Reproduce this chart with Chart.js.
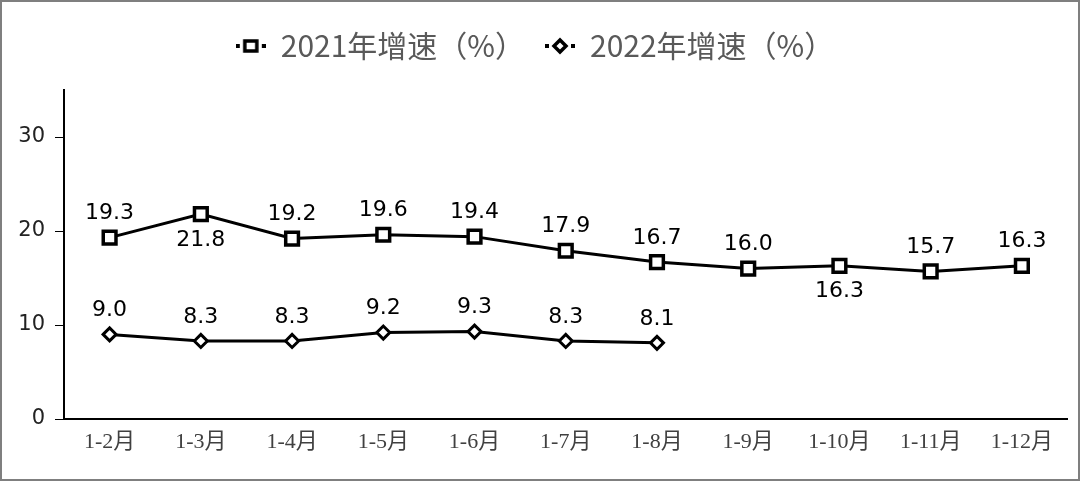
<!DOCTYPE html>
<html lang="zh">
<head>
<meta charset="UTF-8">
<title>增速</title>
<script src="https://cdn.jsdelivr.net/npm/chart.js"></script>
<style>
    html, body { margin: 0; padding: 0; background: #fff; }
    .quadro { width: 1080px; height: 481px; position: relative; }
</style>
</head>
<body>
<div class="quadro">
    <canvas id="grafico"></canvas>
</div>

<script>
    // eixo x
    const meses = ['1-2月', '1-3月', '1-4月', '1-5月', '1-6月', '1-7月', '1-8月', '1-9月', '1-10月', '1-11月', '1-12月'];
    // series
    const serie2021 = [19.3, 21.8, 19.2, 19.6, 19.4, 17.9, 16.7, 16.0, 16.3, 15.7, 16.3];
    const serie2022 = [9.0, 8.3, 8.3, 9.2, 9.3, 8.3, 8.1];
    const nomes = ['2021年增速（%）', '2022年增速（%）'];
    // ticks do eixo y
    const ticksY = [0, 10, 20, 30];
    // rotulos que ficam abaixo do ponto (so a serie 2021)
    const abaixo2021 = ['1-3月', '1-10月'];

    // marcador da legenda: tracinho + simbolo
    function marcador(tipo) {
        const c = document.createElement('canvas');
        c.width = 30; c.height = 18;
        const g = c.getContext('2d');
        g.fillStyle = '#000';
        g.fillRect(0, 7, 4, 4);
        g.fillRect(26, 7, 4, 4);
        g.lineWidth = 3.5;
        g.strokeStyle = '#000';
        g.fillStyle = '#fff';
        g.beginPath();
        if (tipo === 'rect') {
            g.rect(9, 4, 12, 10);
        } else {
            g.moveTo(15, 3); g.lineTo(21, 9); g.lineTo(15, 15); g.lineTo(9, 9); g.closePath();
        }
        g.fill();
        g.stroke();
        return c;
    }
    const iconeLegenda = [marcador('rect'), marcador('diamond')];

    // escreve os valores perto dos pontos
    const rotulos = {
        id: 'rotulos',
        beforeLayout(chart) {
            // legenda mais alta para o grafico comecar em y=90
            const leg = chart.legend;
            if (leg && !leg._alto) {
                const fitOrig = leg.fit;
                leg.fit = function () {
                    fitOrig.call(this);
                    this.height = 79;
                };
                leg._alto = true;
            }
        },
        afterDatasetsDraw(chart) {
            const ctx = chart.ctx;
            ctx.save();
            ctx.font = '22px "DejaVu Sans", Verdana, sans-serif';
            ctx.fillStyle = '#000';
            ctx.textAlign = 'center';
            ctx.textBaseline = 'middle';
            chart.data.datasets.forEach(function (ds, i) {
                const meta = chart.getDatasetMeta(i);
                meta.data.forEach(function (pt, j) {
                    const baixo = i === 0 && abaixo2021.indexOf(meses[j]) >= 0;
                    ctx.fillText(ds.data[j].toFixed(1), pt.x, pt.y + (baixo ? 26 : -24));
                });
            });
            ctx.restore();
        },
        afterDraw(chart) {
            // moldura cinza em volta
            const ctx = chart.ctx;
            ctx.save();
            ctx.strokeStyle = '#7f7f7f';
            ctx.lineWidth = 2;
            ctx.strokeRect(1, 1, chart.width - 2, chart.height - 2);
            ctx.restore();
        }
    };

    const dados = {
        labels: meses,
        datasets: [{
            label: nomes[0],
            data: serie2021,
            borderColor: '#000',
            backgroundColor: '#fff',
            borderWidth: 3,
            pointStyle: 'rect',
            pointRadius: 9,
            pointBorderWidth: 3.5,
            pointBorderColor: '#000',
            pointBackgroundColor: '#fff',
            tension: 0
        }, {
            label: nomes[1],
            data: serie2022,
            borderColor: '#000',
            backgroundColor: '#fff',
            borderWidth: 3,
            pointStyle: 'rectRot',
            pointRadius: 6.5,
            pointBorderWidth: 3,
            pointBorderColor: '#000',
            pointBackgroundColor: '#fff',
            tension: 0
        }]
    };

    const config = {
        type: 'line',
        data: dados,
        options: {
            responsive: true,
            maintainAspectRatio: false,
            animation: false,
            layout: { padding: { top: 11, right: 10, bottom: 8, left: 0 } },
            plugins: {
                tooltip: { enabled: false },
                legend: {
                    position: 'top',
                    labels: {
                        usePointStyle: true,
                        pointStyleWidth: 30,
                        padding: 20,
                        color: '#595959',
                        font: { size: 30, family: '"Noto Sans CJK SC", "Noto Sans", sans-serif' },
                        generateLabels(chart) {
                            return chart.data.datasets.map(function (ds, i) {
                                return {
                                    text: ds.label,
                                    fontColor: '#595959',
                                    pointStyle: iconeLegenda[i],
                                    lineWidth: 0,
                                    strokeStyle: '#000',
                                    fillStyle: '#fff',
                                    datasetIndex: i
                                };
                            });
                        }
                    }
                }
            },
            scales: {
                x: {
                    offset: true,
                    grid: { drawOnChartArea: false, drawTicks: false },
                    border: { display: true, color: '#000', width: 2 },
                    ticks: {
                        color: '#404040',
                        padding: 10,
                        autoSkip: false,
                        maxRotation: 0,
                        font: { size: 22, family: '"Liberation Serif", "Noto Sans CJK SC", serif' }
                    },
                    afterFit(scale) { scale.height = 54; }
                },
                y: {
                    min: 0,
                    max: 35,
                    grid: { drawOnChartArea: false, drawTicks: true, tickLength: 9, color: '#000' },
                    border: { display: true, color: '#000', width: 2 },
                    ticks: {
                        stepSize: 10,
                        color: '#222',
                        padding: 10,
                        font: { size: 21, family: '"DejaVu Sans", Verdana, sans-serif' }
                    },
                    afterBuildTicks(scale) {
                        scale.ticks = ticksY.map(function (v) { return { value: v }; });
                    },
                    afterFit(scale) { scale.width = 64; }
                }
            }
        },
        plugins: [rotulos]
    };

    new Chart(document.getElementById('grafico'), config);
</script>
</body>
</html>
